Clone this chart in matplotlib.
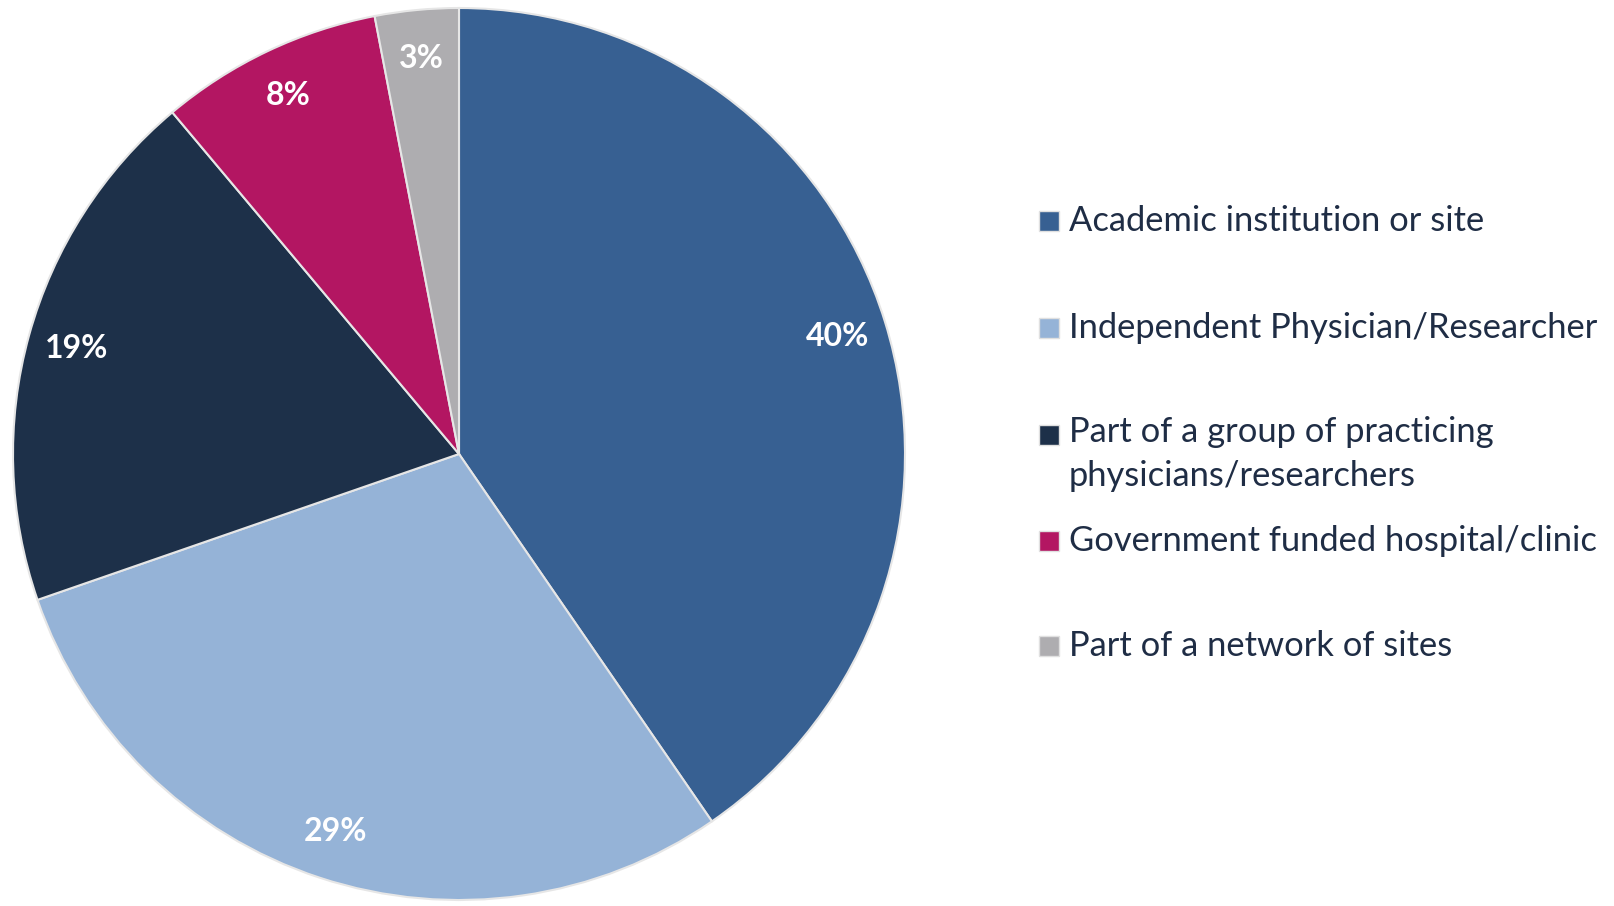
import matplotlib.pyplot as plt
from matplotlib.patches import Rectangle

# Share of respondents by type of research site
categories = [
    "Academic institution or site",
    "Independent Physician/Researcher",
    "Part of a group of practicing\nphysicians/researchers",
    "Government funded hospital/clinic",
    "Part of a network of sites",
]
shares = [40, 29, 19, 8, 3]
colors = ["#376092", "#95b3d7", "#1d3049", "#b31662", "#aeadb0"]

plt.rcParams['font.family'] = ['Lato', 'DejaVu Sans']

W, H = 1614, 906
fig = plt.figure(figsize=(W / 100, H / 100), dpi=100)

# pie axes: centre (459, 454) px, radius 446 px
cx, cy, r = 459, 454, 446
ax = fig.add_axes([(cx - r) / W, (H - cy - r) / H, 2 * r / W, 2 * r / H])

wedges, texts, autotexts = ax.pie(
    shares,
    colors=colors,
    startangle=90,
    counterclock=False,
    autopct=lambda p: f"{p * sum(shares) / 100:.0f}%",
    pctdistance=0.89,
    wedgeprops=dict(edgecolor="#e6e6e6", linewidth=1.5),
    textprops=dict(color="white", fontsize=23, fontweight="bold"),
)
for w in wedges:
    w.set_clip_on(False)
ax.set_xlim(-1, 1)
ax.set_ylim(-1, 1)
ax.set_aspect("equal")
ax.axis("off")

# hand-placed legend: evenly spaced rows, marker aligned with first line
text_color = "#1f2d45"
row_y = [221, 328, 435, 541, 646]
for y, label, c in zip(row_y, categories, colors):
    fig.patches.append(Rectangle((1039 / W, (H - y - 10) / H), 20 / W, 20 / H,
                                 transform=fig.transFigure, facecolor=c,
                                 edgecolor="#e0e0e0", linewidth=1))
    t = fig.text(1069 / W, (H - y) / H, label, fontsize=24.8, color=text_color,
                 ha="left", va="center", linespacing=1.47)
    if "\n" in label:
        # anchor at the top so the first line sits on the marker row
        t.set_va("top")
        t.set_y((H - y + 19) / H)

fig.savefig("out.png", dpi=100, facecolor="white")
